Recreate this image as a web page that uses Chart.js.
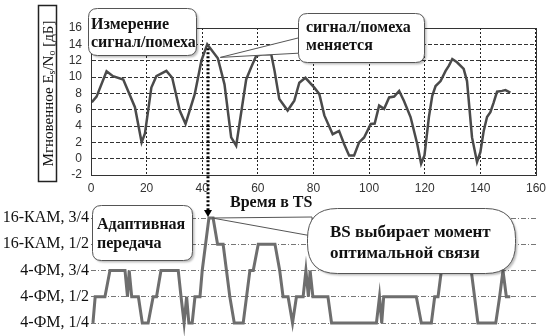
<!DOCTYPE html>
<html>
<head>
<meta charset="utf-8">
<script src="https://cdn.jsdelivr.net/npm/chart.js@4"></script>
<style>
body { margin: 0; background: #fff; }
#wrap { position: relative; width: 552px; height: 336px; overflow: hidden; }
canvas { position: absolute; left: 0; }
#c1 { top: 0; }
#c2 { top: 190px; }
#c3 { top: 0; }
</style>
</head>
<body>
<div id="wrap">
  <canvas id="c1" width="552" height="200"></canvas>
  <canvas id="c2" width="552" height="146"></canvas>
  <canvas id="c3" width="552" height="336"></canvas>
</div>
<script>
// measured signal/noise per time slot
const timeTop = [0.3, 2, 5.6, 7.9, 11.6, 15.8, 18.2, 19.4, 21.7, 23.5, 27.1, 29.2, 31.9, 34, 37.3, 39.7, 41.8, 45.6, 48, 50.4,
  52.2, 55.8, 57.6, 59.4, 62, 64.8, 66, 67.7, 70.7, 73.1, 74.9, 77.1, 80.3, 82.1, 83.9, 86.9, 89.2, 91, 92.8, 94.6,
  96.4, 98.2, 100.6, 102, 103.6, 105.4, 107.2, 109, 110.8, 112.5, 114.9, 117.3, 118.7, 119.9, 121.5, 122.7, 123.9, 125.7, 127.5, 128.7,
  129.9, 131.6, 134, 135.2, 137, 138.8, 140, 141.2, 142.4, 143.6, 144.8, 146, 147.8, 149, 150.8];
const snrTop = [6.9, 7.6, 10.7, 10.1, 9.7, 6.3, 2.0, 3.1, 8.7, 10.1, 10.75, 9.9, 5.9, 4.25, 7.9, 12, 14.0, 12.3, 9.1, 2.6,
  1.6, 9.7, 11.2, 12.6, 12.8, 12.8, 10.75, 7.3, 5.9, 7.1, 9.3, 9.9, 8.7, 7.9, 5.3, 3.0, 3.4, 1.8, 0.4, 0.4,
  2.0, 2.6, 4.25, 4.3, 6.5, 6.1, 7.5, 7.6, 8.3, 7.1, 5.1, 1.8, -0.6, 0.4, 5.1, 7.7, 8.9, 9.5, 10.75, 11.4,
  12.2, 11.8, 11.0, 9.5, 2.6, -0.4, 0.8, 3.4, 5.1, 5.7, 6.9, 8.2, 8.3, 8.4, 8.1];

// chosen modulation level per time slot
const timeMod = [0.7, 1.5, 5, 6.8, 12.2, 13.1, 13.7, 14.6, 17, 18.4, 20.5, 22.3, 23.5, 25.1, 31.3, 32.3, 33.4, 34.3, 35.1, 36.3,
  37.3, 39.1, 39.9, 41.1, 42.3, 43.8, 45.4, 47.4, 48.6, 49.8, 51.4, 54.6, 57, 58.2, 60, 66, 67.7, 68.9, 70.7, 72.3,
  73.7, 76.1, 77.1, 78, 78.6, 79.6, 85, 86.3, 102.4, 103.5, 104.3, 105, 116.7, 118.5, 122.1, 123.3, 124.5, 125.7, 127, 134,
  135.5, 136.4, 138.8, 145.2, 146.6, 147.8, 149, 150.4];
const levelMod = [0, 1, 1, 2, 2, 1, 2, 1, 1, 0, 0, 1, 1, 2, 2, 1, 0, 1, 0, 0,
  1, 1, 2, 3, 4, 4, 3, 3, 2, 1, 0, 0, 2, 2, 3, 3, 2, 1, 1, 0,
  1, 1, 2, 1, 2, 1, 1, 0, 0, 1, 0, 1, 1, 0, 0, 1, 1, 2, 3, 3,
  2, 2, 0, 0, 1, 2, 1, 1];
const modLabels = ['4-ФМ, 1/4', '4-ФМ, 1/2', '4-ФМ, 3/4', '16-КАМ, 1/2', '16-КАМ, 3/4'];

const xTicks = [0, 20, 40, 60, 80, 100, 120, 140, 160];
const yTicks = [-2, 0, 2, 4, 6, 8, 10, 12, 14, 16];

const measureT = 42;   // moment picked by BS
const changeT = 46.5;  // where "сигнал/помеха меняется" points

const SERIF = 'Liberation Serif';

// frame around the top plot
const frame = {
  id: 'frame',
  afterDraw(chart) {
    const a = chart.chartArea, ctx = chart.ctx;
    ctx.save();
    ctx.strokeStyle = '#333';
    ctx.lineWidth = 1;
    ctx.strokeRect(a.left + 0.5, a.top + 0.5, a.right - a.left, a.bottom - a.top);
    ctx.restore();
  }
};

const topChart = new Chart(document.getElementById('c1'), {
  type: 'line',
  data: {
    datasets: [{
      data: timeTop.map((t, i) => ({ x: t, y: snrTop[i] })),
      borderColor: '#4a4a4a',
      borderWidth: 2.5,
      pointRadius: 0,
      tension: 0
    }]
  },
  options: {
    responsive: false,
    animation: false,
    events: [],
    layout: { padding: { top: 28, right: 15, left: 0, bottom: 0 } },
    plugins: { legend: { display: false }, tooltip: { enabled: false } },
    scales: {
      x: {
        type: 'linear', min: 0, max: 160,
        afterBuildTicks: s => { s.ticks = xTicks.map(v => ({ value: v })); },
        afterFit: s => { s.height = 25; },
        ticks: { font: { family: 'Liberation Sans', size: 12 }, color: '#333', padding: 6, maxRotation: 0, autoSkip: false },
        grid: { color: '#222', drawTicks: false },
        border: { color: '#222', dash: [2, 2] }
      },
      y: {
        min: -2, max: 16,
        afterBuildTicks: s => { s.ticks = yTicks.map(v => ({ value: v })); },
        afterFit: s => { s.width = 91; },
        ticks: { font: { family: 'Liberation Sans', size: 12 }, color: '#333', padding: 9, autoSkip: false },
        grid: { color: '#333', drawTicks: false },
        border: { color: '#222', dash: [4, 2] }
      }
    }
  },
  plugins: [frame]
});

const modChart = new Chart(document.getElementById('c2'), {
  type: 'line',
  data: {
    datasets: [{
      data: timeMod.map((t, i) => ({ x: t, y: levelMod[i] })),
      borderColor: '#6e6e6e',
      borderWidth: 3,
      pointRadius: 0,
      tension: 0,
      clip: false
    }]
  },
  options: {
    responsive: false,
    animation: false,
    events: [],
    layout: { padding: { top: 28, right: 15, left: 0, bottom: 13 } },
    plugins: { legend: { display: false }, tooltip: { enabled: false } },
    scales: {
      x: { type: 'linear', min: 0, max: 160, display: false },
      y: {
        min: 0, max: 4,
        afterBuildTicks: s => { s.ticks = modLabels.map((l, i) => ({ value: i })); },
        afterFit: s => { s.width = 91; },
        ticks: { font: { family: 'Liberation Serif', size: 16 }, color: '#111', padding: 2, autoSkip: false, callback: v => modLabels[v] },
        grid: { color: '#777', drawTicks: false },
        border: { display: false, dash: [5, 2, 1, 2] }
      }
    }
  }
});

// ---- annotations on an overlay canvas, anchored through the chart scales ----
const c2Top = 190;
const ctx = document.getElementById('c3').getContext('2d');

function rrect(x, y, w, h, r) {
  ctx.beginPath();
  ctx.moveTo(x + r, y);
  ctx.lineTo(x + w - r, y);
  ctx.quadraticCurveTo(x + w, y, x + w, y + r);
  ctx.lineTo(x + w, y + h - r);
  ctx.quadraticCurveTo(x + w, y + h, x + w - r, y + h);
  ctx.lineTo(x + r, y + h);
  ctx.quadraticCurveTo(x, y + h, x, y + h - r);
  ctx.lineTo(x, y + r);
  ctx.quadraticCurveTo(x, y, x + r, y);
  ctx.closePath();
}

function note(x, y, w, h, r, lines, tx, ty, lh, size) {
  ctx.save();
  rrect(x + 0.5, y + 0.5, w, h, r);
  ctx.shadowColor = 'rgba(0,0,0,0.25)';
  ctx.shadowOffsetX = 2; ctx.shadowOffsetY = 2; ctx.shadowBlur = 2;
  ctx.fillStyle = '#fff';
  ctx.fill();
  ctx.shadowColor = 'transparent';
  ctx.strokeStyle = '#555';
  ctx.lineWidth = 1;
  ctx.stroke();
  ctx.fillStyle = '#111';
  ctx.font = `bold ${size}px ${SERIF}`;
  ctx.textBaseline = 'middle';
  lines.forEach((s, i) => ctx.fillText(s, tx, ty + i * lh));
  ctx.restore();
}

function tail(ax, ay, bx, by1, by2) {
  ctx.save();
  ctx.beginPath();
  ctx.moveTo(ax, ay); ctx.lineTo(bx, by1); ctx.lineTo(bx, by2); ctx.closePath();
  ctx.fillStyle = '#fff'; ctx.fill();
  ctx.strokeStyle = '#555'; ctx.lineWidth = 1; ctx.stroke();
  ctx.restore();
}

// tails first, boxes over them
tail(topChart.scales.x.getPixelForValue(changeT), topChart.scales.y.getPixelForValue(12.4), 302, 37, 53);
tail(modChart.scales.x.getPixelForValue(43.5), c2Top + modChart.scales.y.getPixelForValue(4), 312, 217, 236);

note(88, 8, 108, 47, 9, ['Измерение', 'сигнал/помеха'], 91, 25, 18, 16);
note(298, 13, 126, 49, 9, ['сигнал/помеха', 'меняется'], 306, 28, 18, 16);
note(92, 205, 100, 55, 9, ['Адаптивная', 'передача'], 97, 225, 19, 16);
note(307, 208, 208, 65, 30, ['BS выбирает момент', 'оптимальной связи'], 330, 233, 21, 17);

// dotted arrow from the measured peak down to the chosen mode
const ax = Math.round(topChart.scales.x.getPixelForValue(measureT));
const ay1 = topChart.scales.y.getPixelForValue(14) + 4;
const ay2 = c2Top + modChart.scales.y.getPixelForValue(4);
ctx.save();
ctx.strokeStyle = '#000';
ctx.lineWidth = 3;
ctx.setLineDash([2, 2]);
ctx.beginPath(); ctx.moveTo(ax, ay1); ctx.lineTo(ax, ay2 - 7); ctx.stroke();
ctx.setLineDash([]);
ctx.fillStyle = '#000';
ctx.beginPath(); ctx.moveTo(ax - 4, ay2 - 8); ctx.lineTo(ax + 4, ay2 - 8); ctx.lineTo(ax, ay2 - 1); ctx.closePath(); ctx.fill();
ctx.restore();

// axis titles
ctx.save();
ctx.fillStyle = '#111';
ctx.textBaseline = 'middle';
ctx.font = `bold 16px ${SERIF}`;
ctx.fillText('Время в TS', 230, 203);

ctx.strokeStyle = '#222';
ctx.lineWidth = 1.5;
ctx.strokeRect(38.5, 5.5, 18, 176);
ctx.translate(49, 93.5);
ctx.rotate(-Math.PI / 2);
const parts = [['Мгновенное E', 15, 0], ['s', 10, 3], ['/N', 15, 0], ['o', 10, 3], [' [дБ]', 15, 0]];
let total = 0;
parts.forEach(p => { ctx.font = `${p[1]}px ${SERIF}`; total += ctx.measureText(p[0]).width; });
let px = -total / 2;
parts.forEach(p => {
  ctx.font = `${p[1]}px ${SERIF}`;
  ctx.fillText(p[0], px, p[2]);
  px += ctx.measureText(p[0]).width;
});
ctx.restore();
</script>
</body>
</html>
